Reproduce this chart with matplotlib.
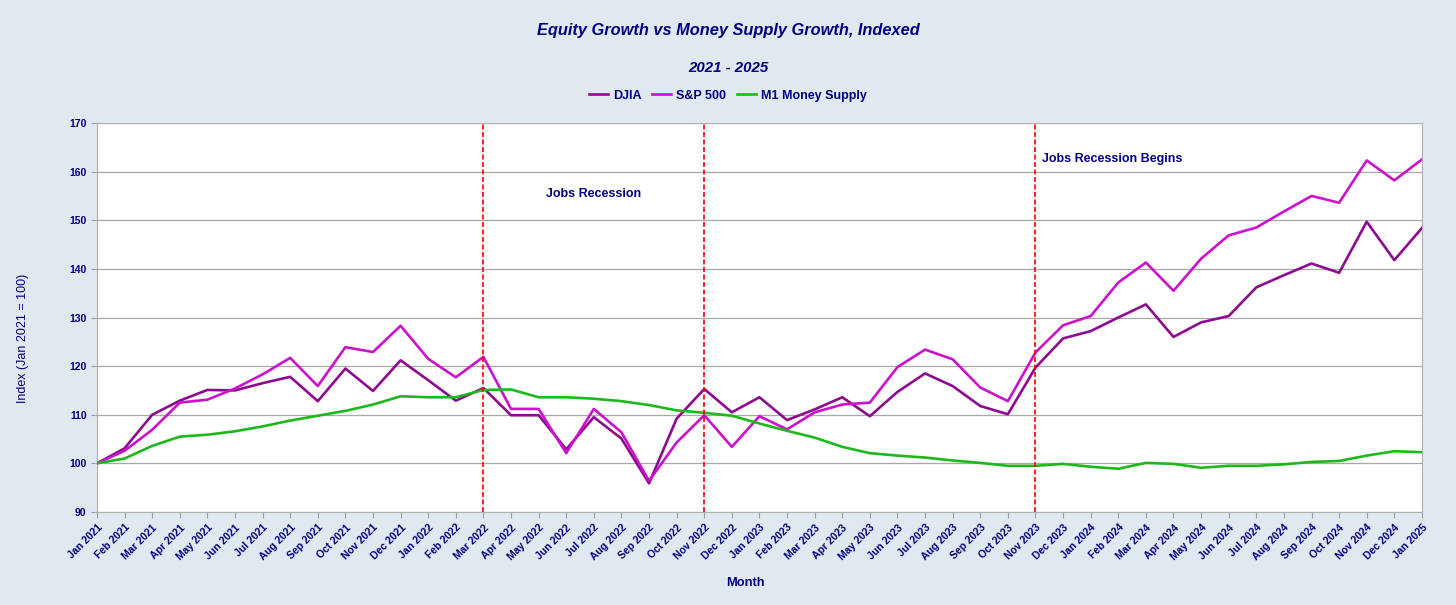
import numpy as np
import matplotlib.pyplot as plt

months = ['Jan', 'Feb', 'Mar', 'Apr', 'May', 'Jun', 'Jul', 'Aug', 'Sep', 'Oct', 'Nov', 'Dec']
labels = [m + ' ' + str(y) for y in range(2021, 2025) for m in months] + ['Jan 2025']

djia = [100.0, 103.1, 110.0, 112.9, 115.1, 115.0, 116.5, 117.8, 112.8, 119.5, 114.9, 121.2,
        117.1, 112.9, 115.5, 109.9, 109.9, 102.9, 109.5, 105.1, 95.9, 109.2, 115.3, 110.5,
        113.6, 108.9, 111.1, 113.6, 109.7, 114.7, 118.5, 115.9, 111.8, 110.1, 119.7, 125.7,
        127.2, 130.0, 132.7, 126.0, 129.0, 130.3, 136.2, 138.7, 141.1, 139.2, 149.7, 141.8,
        148.4]
sp500 = [100.0, 102.6, 106.9, 112.5, 113.1, 115.4, 118.3, 121.7, 115.9, 123.9, 122.9, 128.3,
         121.5, 117.7, 121.9, 111.2, 111.2, 102.1, 111.2, 106.4, 96.4, 104.3, 109.9, 103.4,
         109.7, 107.0, 110.5, 112.1, 112.5, 119.8, 123.4, 121.4, 115.6, 112.8, 122.8, 128.4,
         130.3, 137.2, 141.3, 135.5, 142.1, 146.9, 148.5, 151.8, 155.0, 153.6, 162.3, 158.2,
         162.5]
m1 = [100.0, 101.0, 103.6, 105.5, 105.9, 106.6, 107.6, 108.8, 109.8, 110.8, 112.1, 113.8,
      113.6, 113.6, 115.1, 115.2, 113.6, 113.6, 113.3, 112.8, 112.0, 110.9, 110.4, 109.8,
      108.2, 106.7, 105.3, 103.4, 102.1, 101.6, 101.2, 100.6, 100.1, 99.5, 99.5, 99.9,
      99.3, 98.9, 100.1, 99.9, 99.1, 99.5, 99.5, 99.8, 100.3, 100.5, 101.6, 102.5,
      102.3]

recession_lines = ['Mar 2022', 'Nov 2022', 'Nov 2023']

navy = '#000080'
bg = '#e0e8f0'
plt.rcParams['font.family'] = ['Liberation Sans', 'DejaVu Sans']

x = np.arange(len(labels))
fig = plt.figure(figsize=(14.56, 6.05), dpi=100, facecolor=bg)
ax = fig.add_axes([0.0666, 0.1537, 0.91, 0.643])
ax.set_facecolor('white')

ax.plot(x, djia, color='#8e0a8e', linewidth=1.9, label='DJIA', zorder=3)
ax.plot(x, sp500, color='#cc11cc', linewidth=1.9, label='S&P 500', zorder=3)
ax.plot(x, m1, color='#1cb81c', linewidth=1.9, label='M1 Money Supply', zorder=3)

for lab in recession_lines:
    ax.axvline(labels.index(lab), color='red', linestyle=(0, (3, 1.5)), linewidth=1.2, zorder=4)

ax.text(labels.index('Jul 2022'), 155.4, 'Jobs Recession', color=navy, fontsize=9,
        fontweight='bold', ha='center', va='center')
ax.text(labels.index('Nov 2023') + 0.25, 162.6, 'Jobs Recession Begins', color=navy, fontsize=9,
        fontweight='bold', ha='left', va='center')

ax.set_xlim(0, len(labels) - 1)
ax.set_ylim(90, 170)
ax.set_yticks(np.arange(90, 171, 10))
ax.set_xticks(x)
ax.set_xticklabels(labels, rotation=45, ha='right', rotation_mode='anchor')
ax.tick_params(axis='both', colors='#a0a0a0', labelcolor=navy, labelsize=7.5, length=4)
for t in ax.get_xticklabels() + ax.get_yticklabels():
    t.set_fontweight('bold')

ax.grid(axis='y', color='#a8a8a8', linewidth=0.9)
ax.set_axisbelow(True)
for s in ax.spines.values():
    s.set_color('#b0b0b0')

ax.set_ylabel('Index (Jan 2021 = 100)', color=navy, fontsize=9)
ax.yaxis.set_label_coords(-0.0513, 0.447)
ax.set_xlabel('Month', color=navy, fontsize=9.3, fontweight='bold')
ax.xaxis.set_label_coords(0.489, -0.167)

fig.text(0.5, 0.950, 'Equity Growth vs Money Supply Growth, Indexed', color=navy,
         fontsize=11.8, fontweight='bold', fontstyle='italic', ha='center', va='center')
fig.text(0.5, 0.887, '2021 - 2025', color=navy, fontsize=10.8, fontweight='bold',
         fontstyle='italic', ha='center', va='center')
leg = fig.legend(loc='center', bbox_to_anchor=(0.5, 0.842), ncol=3, frameon=False,
                 fontsize=9, handlelength=1.5, columnspacing=0.9, handletextpad=0.4)
for t in leg.get_texts():
    t.set_color(navy)
    t.set_fontweight('bold')

fig.savefig('out.png', facecolor=bg)
